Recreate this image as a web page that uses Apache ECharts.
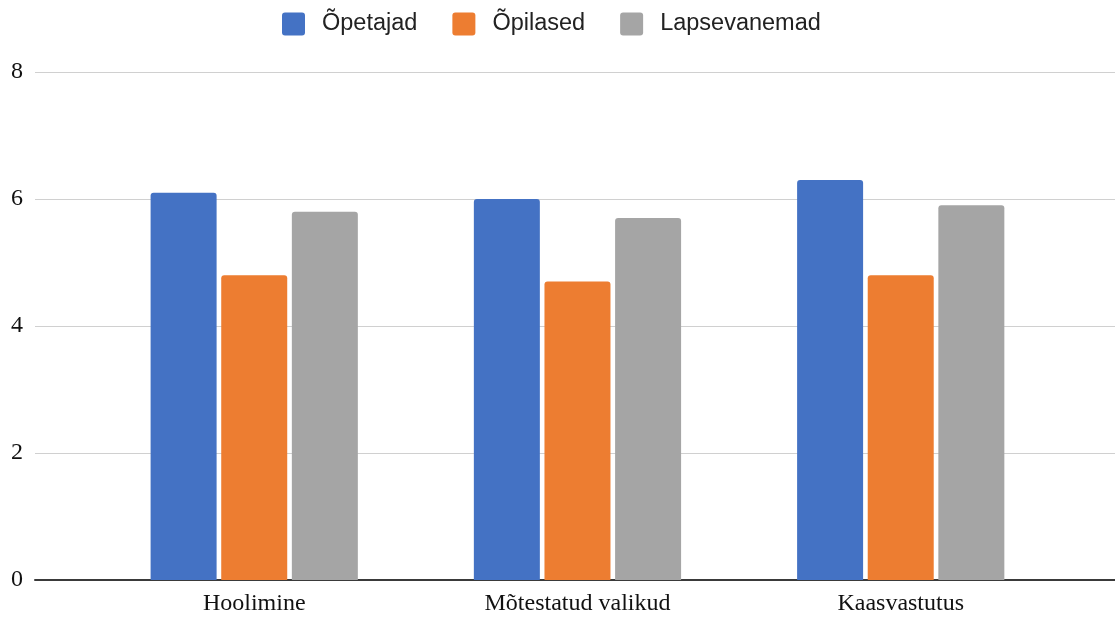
<!DOCTYPE html>
<html>
<head>
<meta charset="utf-8">
<script src="https://cdn.jsdelivr.net/npm/echarts@6/dist/echarts.min.js"></script>
<style>
  html, body { margin: 0; padding: 0; background: #ffffff; }
  #chart { width: 1115px; height: 617px; }
</style>
</head>
<body>
<div id="chart"></div>
<script>
// Categories and group values
const categories = ['Hoolimine', 'Mõtestatud valikud', 'Kaasvastutus'];
const seriesNames = ['Õpetajad', 'Õpilased', 'Lapsevanemad'];
const opetajad = [6.1, 6.0, 6.3];
const opilased = [4.8, 4.7, 4.8];
const lapsevanemad = [5.8, 5.7, 5.9];
const yTicks = { min: 0, max: 8, interval: 2 };

const colors = ['#4472C4', '#ED7D31', '#A5A5A5'];
const serif = '"Liberation Serif", "Times New Roman", serif';
const sans = '"Liberation Sans", Arial, sans-serif';

// square legend swatch with slightly rounded corners
const swatch = 'path://M3,0 H20 Q23,0 23,3 V20 Q23,23 20,23 H3 Q0,23 0,20 V3 Q0,0 3,0 Z';

const values = [opetajad, opilased, lapsevanemad];

const chart = echarts.init(document.getElementById('chart'), null, { renderer: 'canvas' });

chart.setOption({
  animation: false,
  backgroundColor: '#ffffff',
  color: colors,
  legend: {
    data: seriesNames,
    left: 282,
    top: 12,
    padding: 0,
    icon: swatch,
    itemWidth: 23,
    itemHeight: 23,
    itemGap: 35,
    textStyle: {
      fontFamily: sans,
      fontSize: 23.5,
      color: '#222222',
      padding: [0, 0, 0, 12]
    }
  },
  grid: [
    // full-width plot area: gridlines and baseline
    { left: 35, right: 0, top: 72, bottom: 37 },
    // area that holds the category bands
    { left: 92.6, right: 52.65, top: 72, bottom: 37 }
  ],
  xAxis: [
    {
      type: 'value', gridIndex: 0, min: 0, max: 1,
      axisLine: { show: true, lineStyle: { color: '#3a3a3a', width: 2 } },
      axisTick: { show: false },
      axisLabel: { show: false },
      splitLine: { show: false }
    },
    {
      type: 'category', gridIndex: 1, data: categories,
      axisLine: { show: false },
      axisTick: { show: false },
      axisLabel: {
        fontFamily: serif, fontSize: 24, color: '#111111', margin: 12
      },
      splitLine: { show: false }
    }
  ],
  yAxis: [
    {
      type: 'value', gridIndex: 0,
      min: yTicks.min, max: yTicks.max, interval: yTicks.interval,
      axisLine: { show: false },
      axisTick: { show: false },
      axisLabel: { fontFamily: serif, fontSize: 24, color: '#111111', margin: 12 },
      splitLine: { show: true, lineStyle: { color: '#d0d0d0', width: 1 } }
    },
    {
      type: 'value', gridIndex: 1,
      min: yTicks.min, max: yTicks.max, interval: yTicks.interval,
      show: false
    }
  ],
  series: seriesNames.map((name, i) => ({
    name: name,
    type: 'bar',
    xAxisIndex: 1,
    yAxisIndex: 1,
    data: values[i],
    barWidth: 66,
    barGap: '7%',
    itemStyle: { color: colors[i], borderRadius: [3, 3, 0, 0] },
    z: 1
  }))
});
</script>
</body>
</html>
